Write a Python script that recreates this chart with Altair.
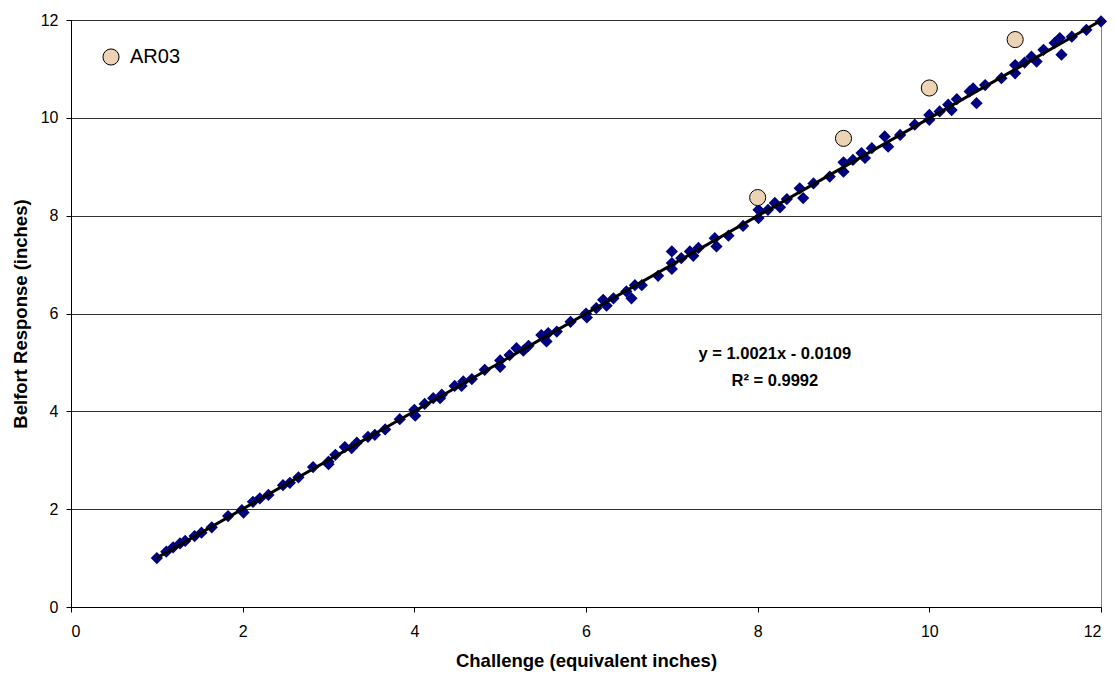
import altair as alt
import pandas as pd

# Belfort data (diamonds)
belfort_x = [1.0, 1.11, 1.19, 1.27, 1.33, 1.44, 1.52, 1.64, 1.83, 1.99, 2.01, 2.12, 2.20, 2.30,
             2.47, 2.55, 2.65, 2.82, 3.0, 3.0, 3.08, 3.19, 3.27, 3.33, 3.46, 3.54, 3.66, 3.83,
             4.0, 4.01, 4.12, 4.22, 4.30, 4.32, 4.47, 4.55, 4.57, 4.67, 4.82, 5.0, 5.0, 5.11,
             5.19, 5.27, 5.33, 5.48, 5.54, 5.56, 5.66, 5.82, 6.0, 6.01, 6.12, 6.20, 6.24, 6.32,
             6.47, 6.53, 6.57, 6.65, 6.84, 7.0, 7.0, 7.0, 7.11, 7.21, 7.25, 7.31, 7.50, 7.52,
             7.66, 7.83, 8.01, 8.01, 8.12, 8.20, 8.26, 8.34, 8.49, 8.53, 8.65, 8.84, 9.0, 9.0,
             9.11, 9.21, 9.25, 9.33, 9.48, 9.52, 9.66, 9.83, 10.0, 10.0, 10.12, 10.22, 10.26,
             10.32, 10.47, 10.51, 10.55, 10.65, 10.84, 11.0, 11.0, 11.11, 11.19, 11.25, 11.33,
             11.46, 11.52, 11.54, 11.66, 11.83, 12.0]
belfort_y = [1.0, 1.13, 1.22, 1.30, 1.35, 1.45, 1.52, 1.63, 1.86, 1.98, 1.93, 2.15, 2.22, 2.29,
             2.49, 2.54, 2.65, 2.86, 2.97, 2.92, 3.11, 3.27, 3.25, 3.36, 3.48, 3.52, 3.63, 3.84,
             4.03, 3.91, 4.15, 4.27, 4.27, 4.34, 4.52, 4.52, 4.61, 4.66, 4.85, 5.04, 4.91, 5.15,
             5.29, 5.24, 5.34, 5.56, 5.43, 5.60, 5.63, 5.83, 6.0, 5.92, 6.11, 6.28, 6.16, 6.31,
             6.45, 6.31, 6.58, 6.58, 6.77, 7.03, 7.27, 6.91, 7.13, 7.27, 7.18, 7.34, 7.54, 7.37,
             7.59, 7.79, 8.12, 7.95, 8.12, 8.26, 8.17, 8.34, 8.56, 8.36, 8.66, 8.80, 9.09, 8.90,
             9.14, 9.28, 9.18, 9.38, 9.62, 9.41, 9.65, 9.86, 10.06, 9.96, 10.13, 10.27, 10.16,
             10.38, 10.54, 10.60, 10.30, 10.67, 10.81, 11.08, 10.91, 11.13, 11.25, 11.15, 11.39,
             11.53, 11.63, 11.29, 11.66, 11.80, 11.97]

# AR03 series (circles)
ar03_x = [8, 9, 10, 11]
ar03_y = [8.37, 9.58, 10.61, 11.6]

eq_text = ["y = 1.0021x - 0.0109", "R\u00b2 = 0.9992"]
eq_x = [8.2, 8.2]
eq_y = [5.17, 4.62]

FONT = "Liberation Sans"

bel = pd.DataFrame({"x": belfort_x, "y": belfort_y})
ar = pd.DataFrame({"x": ar03_x, "y": ar03_y, "series": ["AR03"] * len(ar03_x)})
eq = pd.DataFrame({"x": eq_x, "y": eq_y, "t": eq_text})

xscale = alt.Scale(domain=[0, 12], nice=False, zero=False)
yscale = alt.Scale(domain=[0, 12], nice=False, zero=False)

xaxis = alt.Axis(values=[0, 2, 4, 6, 8, 10, 12], format="d", grid=False,
                 title="Challenge (equivalent inches)",
                 domainColor="black", tickColor="black", tickSize=5, labelFontSize=16,
                 labelColor="black", labelFont=FONT, labelPadding=11, titleFont=FONT,
                 titleFontSize=18.5, titleFontWeight="bold", titleColor="black", titlePadding=12)
yaxis = alt.Axis(values=[0, 2, 4, 6, 8, 10, 12], format="d", grid=True, gridColor="#333333",
                 gridWidth=1, title="Belfort Response (inches)", domainColor="black",
                 tickColor="black", tickSize=5, labelFontSize=16, labelColor="black",
                 labelFont=FONT, labelPadding=8, titleFont=FONT, titleFontSize=18.5,
                 titleFontWeight="bold", titleColor="black", titlePadding=10)

diamonds = alt.Chart(bel).mark_point(shape="diamond", filled=True, color="#000080", size=150,
                                     opacity=1).encode(
    x=alt.X("x:Q", scale=xscale, axis=xaxis),
    y=alt.Y("y:Q", scale=yscale, axis=yaxis),
)

trend = alt.Chart(bel).transform_regression("x", "y", extent=[1, 12]).mark_line(
    color="black", strokeWidth=3).encode(
    x=alt.X("x:Q", scale=xscale),
    y=alt.Y("y:Q", scale=yscale),
)

circles = alt.Chart(ar).mark_point(shape="circle", filled=True, size=260, stroke="black",
                                   strokeWidth=1, opacity=1).encode(
    x=alt.X("x:Q", scale=xscale),
    y=alt.Y("y:Q", scale=yscale),
    fill=alt.Fill("series:N", scale=alt.Scale(domain=["AR03"], range=["#EDD3B5"]),
                  legend=alt.Legend(title=None, orient="none", legendX=30, legendY=27,
                                    symbolType="circle", symbolSize=260, symbolStrokeColor="black",
                                    symbolStrokeWidth=1, symbolFillColor="#EDD3B5",
                                    labelFont=FONT, labelFontSize=20, labelColor="black",
                                    labelOffset=9, padding=0)),
)

eqs = alt.Chart(eq).mark_text(font=FONT, fontSize=16.5, fontWeight="bold", color="black",
                              align="center", baseline="middle").encode(
    x=alt.X("x:Q", scale=xscale),
    y=alt.Y("y:Q", scale=yscale),
    text="t:N",
)

chart = alt.layer(diamonds, trend, circles, eqs).properties(
    width=1030, height=587,
    autosize=alt.AutoSizeParams(type="none"),
    padding={"left": 63, "top": 12, "right": 6, "bottom": 66},
    background="white",
).configure_view(stroke="#808080", strokeWidth=1)

chart.save("out.html", embed_options={"renderer": "svg", "actions": False})
